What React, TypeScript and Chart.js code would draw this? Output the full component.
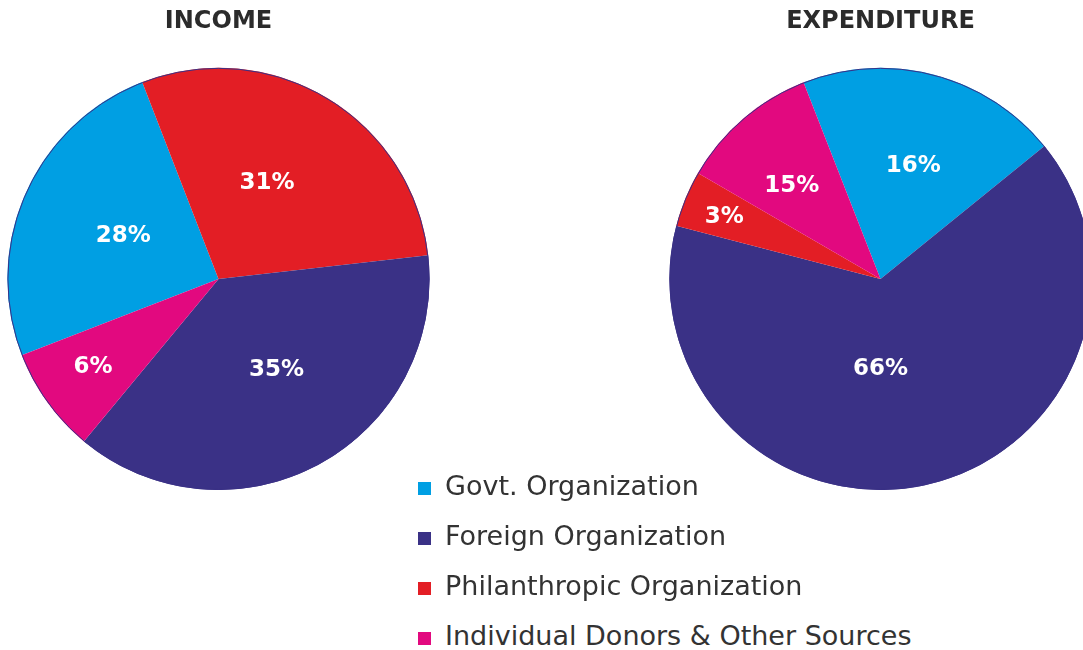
import React, { useEffect, useRef } from 'react';
import { Chart, registerables } from 'chart.js';

Chart.register(...registerables);

// ---- data ----
const categories = [
  'Govt. Organization',
  'Foreign Organization',
  'Philanthropic Organization',
  'Individual Donors & Other Sources',
];
const sliceColors = ['#009fe3', '#3a3186', '#e31e25', '#e2097f'];

const incomeTitle = 'INCOME';
const incomeShares = [25.0, 37.8, 29.1, 8.1];
const incomeLabels = ['28%', '35%', '31%', '6%'];
const incomeDrawOrder = [0, 2, 1, 3];
const incomeStartAngle = 248.8;

const expenditureTitle = 'EXPENDITURE';
const expenditureShares = [20.1, 64.9, 4.3, 10.7];
const expenditureLabels = ['16%', '66%', '3%', '15%'];
const expenditureDrawOrder = [0, 1, 2, 3];
const expenditureStartAngle = -21.4;

// ---- styling ----
const FONT = '"DejaVu Sans", "Noto Sans", sans-serif';
const OUTLINE = '#3a3186';
const incomeLabelRadius = [0.5, 0.5, 0.52, 0.72];
const incomeLabelShift = [1.6, -4.9, -5, 1.5];
const expenditureLabelRadius = [0.566, 0.415, 0.8, 0.618];
const expenditureLabelShift = [1.2, 12.2, 0, -2.2];

type PieProps = {
  title: string;
  shares: number[];
  labels: string[];
  order: number[];
  rotation: number;
  labelRadius: number[];
  labelShift: number[];
  left: number;
  top: number;
};

function PieChart(props: PieProps) {
  const ref = useRef<HTMLCanvasElement>(null);
  useEffect(() => {
    const { title, shares, labels, order, rotation, labelRadius, labelShift } = props;
    const labelSize = 23;
    const labelPlugin = {
      id: 'sliceLabels',
      afterDatasetsDraw(chart: any) {
        const ctx = chart.ctx as CanvasRenderingContext2D;
        const meta = chart.getDatasetMeta(0);
        const first: any = meta.data[0];
        ctx.save();
        ctx.beginPath();
        ctx.arc(first.x, first.y, first.outerRadius - 0.5, 0, Math.PI * 2);
        ctx.strokeStyle = OUTLINE;
        ctx.lineWidth = 1;
        ctx.stroke();
        ctx.font = `bold ${labelSize}px ${FONT}`;
        ctx.fillStyle = '#ffffff';
        ctx.textAlign = 'center';
        ctx.textBaseline = 'alphabetic';
        meta.data.forEach((arc: any, i: number) => {
          const c = order[i];
          const mid = (arc.startAngle + arc.endAngle) / 2 + (labelShift[c] * Math.PI) / 180;
          const r = arc.outerRadius * labelRadius[c];
          ctx.fillText(
            labels[c],
            arc.x + Math.cos(mid) * r,
            arc.y + Math.sin(mid) * r + labelSize * 0.365
          );
        });
        ctx.restore();
      },
    };
    const chart = new Chart(ref.current as HTMLCanvasElement, {
      type: 'pie',
      data: {
        labels: order.map((i) => categories[i]),
        datasets: [
          {
            data: order.map((i) => shares[i]),
            backgroundColor: order.map((i) => sliceColors[i]),
            borderWidth: 0,
          },
        ],
      },
      options: {
        responsive: false,
        animation: false,
        rotation,
        layout: { padding: 0 },
        plugins: {
          legend: { display: false },
          tooltip: { enabled: false },
          title: {
            display: true,
            text: title,
            color: '#2b2b2b',
            font: { family: FONT, size: 24, weight: 'bold' },
            padding: { top: 7, bottom: 32 },
          },
        },
      },
      plugins: [labelPlugin],
    } as any);
    return () => chart.destroy();
  }, []);
  return (
    <canvas
      ref={ref}
      width={423}
      height={490}
      style={{ position: 'absolute', left: props.left, top: props.top, width: 423, height: 490 }}
    />
  );
}

export default function App() {
  return (
    <div
      style={{
        position: 'fixed',
        left: 0,
        top: 0,
        width: 1083,
        height: 650,
        overflow: 'hidden',
        background: '#ffffff',
      }}
    >
      <PieChart
        title={incomeTitle}
        shares={incomeShares}
        labels={incomeLabels}
        order={incomeDrawOrder}
        rotation={incomeStartAngle}
        labelRadius={incomeLabelRadius}
        labelShift={incomeLabelShift}
        left={7}
        top={0}
      />
      <PieChart
        title={expenditureTitle}
        shares={expenditureShares}
        labels={expenditureLabels}
        order={expenditureDrawOrder}
        rotation={expenditureStartAngle}
        labelRadius={expenditureLabelRadius}
        labelShift={expenditureLabelShift}
        left={669}
        top={0}
      />
      {categories.map((name, i) => (
        <div
          key={name}
          style={{
            position: 'absolute',
            left: 418,
            top: 461 + 50 * i,
            height: 50,
            whiteSpace: 'nowrap',
          }}
        >
          <span
            style={{
              position: 'absolute',
              left: 0,
              top: 21,
              width: 13,
              height: 13,
              background: sliceColors[i],
            }}
          />
          <span
            style={{
              position: 'absolute',
              left: 27,
              top: 0,
              lineHeight: '50px',
              fontSize: 27,
              fontFamily: FONT,
              color: '#333333',
            }}
          >
            {name}
          </span>
        </div>
      ))}
    </div>
  );
}
